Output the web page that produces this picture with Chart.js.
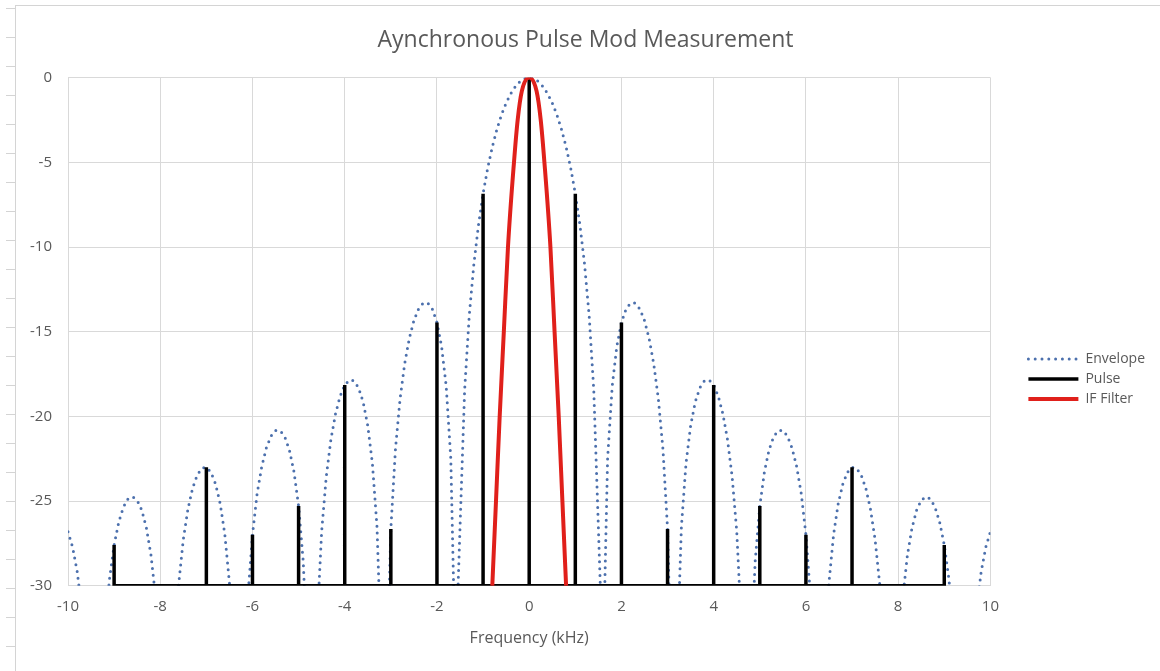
<!DOCTYPE html>
<html>
<head>
<meta charset="utf-8">
<title>Aynchronous Pulse Mod Measurement</title>
<script src="https://cdn.jsdelivr.net/npm/chart.js@4.4.1/dist/chart.umd.min.js"></script>
<style>
    html, body { margin: 0; padding: 0; background: #fff; }
    #wrap { position: relative; width: 1160px; height: 671px; overflow: hidden; }
    #frame { position: absolute; left: 15px; top: 5px; right: 0; bottom: 0;
             border-left: 1px solid #d4d4d4; border-top: 1px solid #d4d4d4; }
    #rows { position: absolute; left: 6px; top: 8px; width: 9px; bottom: 0;
            background: repeating-linear-gradient(to bottom, #d4d4d4 0, #d4d4d4 1px, transparent 1px, transparent 29px); }
    canvas { position: absolute; left: 0; top: 0; }
</style>
</head>
<body>
<div id="wrap">
    <div id="frame"></div>
    <div id="rows"></div>
    <canvas id="pulsechart" width="1160" height="671"></canvas>
</div>
<script>
// envelope, every 0.1 kHz (dB)
const envFreq = [
    -10.0, -9.9, -9.8, -9.7, -9.6, -9.5, -9.4, -9.3, -9.2, -9.1,
    -9.0, -8.9, -8.8, -8.7, -8.6, -8.5, -8.4, -8.3, -8.2, -8.1,
    -8.0, -7.9, -7.8, -7.7, -7.6, -7.5, -7.4, -7.3, -7.2, -7.1,
    -7.0, -6.9, -6.8, -6.7, -6.6, -6.5, -6.4, -6.3, -6.2, -6.1,
    -6.0, -5.9, -5.8, -5.7, -5.6, -5.5, -5.4, -5.3, -5.2, -5.1,
    -5.0, -4.9, -4.8, -4.7, -4.6, -4.5, -4.4, -4.3, -4.2, -4.1,
    -4.0, -3.9, -3.8, -3.7, -3.6, -3.5, -3.4, -3.3, -3.2, -3.1,
    -3.0, -2.9, -2.8, -2.7, -2.6, -2.5, -2.4, -2.3, -2.2, -2.1,
    -2.0, -1.9, -1.8, -1.7, -1.6, -1.5, -1.4, -1.3, -1.2, -1.1,
    -1.0, -0.9, -0.8, -0.7, -0.6, -0.5, -0.4, -0.3, -0.2, -0.1,
    0.0,
    0.1, 0.2, 0.3, 0.4, 0.5, 0.6, 0.7, 0.8, 0.9, 1.0,
    1.1, 1.2, 1.3, 1.4, 1.5, 1.6, 1.7, 1.8, 1.9, 2.0,
    2.1, 2.2, 2.3, 2.4, 2.5, 2.6, 2.7, 2.8, 2.9, 3.0,
    3.1, 3.2, 3.3, 3.4, 3.5, 3.6, 3.7, 3.8, 3.9, 4.0,
    4.1, 4.2, 4.3, 4.4, 4.5, 4.6, 4.7, 4.8, 4.9, 5.0,
    5.1, 5.2, 5.3, 5.4, 5.5, 5.6, 5.7, 5.8, 5.9, 6.0,
    6.1, 6.2, 6.3, 6.4, 6.5, 6.6, 6.7, 6.8, 6.9, 7.0,
    7.1, 7.2, 7.3, 7.4, 7.5, 7.6, 7.7, 7.8, 7.9, 8.0,
    8.1, 8.2, 8.3, 8.4, 8.5, 8.6, 8.7, 8.8, 8.9, 9.0,
    9.1, 9.2, 9.3, 9.4, 9.5, 9.6, 9.7, 9.8, 9.9, 10.0
];
const envLevel = [
    -26.81, -27.72, -29.17, -31.39, -34.95, -42.06, -51.6, -37.60, -32.55, -29.59,
    -27.59, -26.24, -25.36, -24.87, -24.74, -24.95, -25.54, -26.58, -28.20, -30.70,
    -34.90, -44.7, -43.2, -34.14, -29.90, -27.26, -25.48, -24.25, -23.47, -23.06,
    -23.00, -23.30, -23.99, -25.15, -26.96, -29.81, -34.85, -51.5, -37.49, -30.64,
    -26.99, -24.57, -22.97, -21.87, -21.17, -20.83, -20.84, -21.20, -21.98, -23.27,
    -25.29, -28.54, -34.82, -51.6, -32.31, -26.78, -23.55, -21.37, -19.85, -18.81,
    -18.15, -17.85, -17.90, -18.31, -19.15, -20.55, -22.77, -26.52, -34.79, -37.46,
    -26.64, -21.93, -18.96, -16.89, -15.40, -14.34, -13.66, -13.31, -13.30, -13.66,
    -14.46, -15.86, -18.21, -22.48, -34.78, -26.55, -18.44, -14.05, -11.01, -8.70,
    -6.85, -5.34, -4.09, -3.05, -2.19, -1.50, -0.95, -0.53, -0.23, -0.06,
    0,
    -0.06, -0.23, -0.53, -0.95, -1.50, -2.19, -3.05, -4.09, -5.34, -6.85,
    -8.70, -11.01, -14.05, -18.44, -26.55, -34.78, -22.48, -18.21, -15.86, -14.46,
    -13.66, -13.30, -13.31, -13.66, -14.34, -15.40, -16.89, -18.96, -21.93, -26.64,
    -37.46, -34.79, -26.52, -22.77, -20.55, -19.15, -18.31, -17.90, -17.85, -18.15,
    -18.81, -19.85, -21.37, -23.55, -26.78, -32.31, -51.6, -34.82, -28.54, -25.29,
    -23.27, -21.98, -21.20, -20.84, -20.83, -21.17, -21.87, -22.97, -24.57, -26.99,
    -30.64, -37.49, -51.5, -34.85, -29.81, -26.96, -25.15, -23.99, -23.30, -23.00,
    -23.06, -23.47, -24.25, -25.48, -27.26, -29.90, -34.14, -43.2, -44.7, -34.90,
    -30.70, -28.20, -26.58, -25.54, -24.95, -24.74, -24.87, -25.36, -26.24, -27.59,
    -29.59, -32.55, -37.60, -51.6, -42.06, -34.95, -31.39, -29.17, -27.72, -26.81
];

// spectral lines
const pulseFreq = [-9, -8, -7, -6, -5, -4, -3, -2, -1, 0, 1, 2, 3, 4, 5, 6, 7, 8, 9];
const pulseLevel = [-27.59, -34.90, -23.00, -26.99, -25.29, -18.15, -26.64, -14.46, -6.85, 0,
                    -6.85, -14.46, -26.64, -18.15, -25.29, -26.99, -23.00, -34.90, -27.59];

// IF filter response
const filterFreq = [-0.80, -0.72, -0.64, -0.55, -0.46, -0.33, -0.25, -0.16, 0, 0.16, 0.25, 0.33, 0.46, 0.55, 0.64, 0.72, 0.80];
const filterLevel = [-30, -25, -20, -15, -10, -5, -2.5, -0.8, 0, -0.8, -2.5, -5, -10, -15, -20, -25, -30];

const xTicks = [-10, 10, 2];      // min, max, step
const yTicks = [-30, 0, 5];

const textColor = '#595959';
const gridColor = '#d9d9d9';
const fontFamily = "'Open Sans', sans-serif";

function pairs(xs, ys) {
    return xs.map(function (x, i) { return { x: x, y: ys[i] }; });
}

// each line drops from the floor up to its level and back down
const pulsePoints = [];
pulseFreq.forEach(function (f, i) {
    pulsePoints.push({ x: f, y: yTicks[0] });
    pulsePoints.push({ x: f, y: pulseLevel[i] });
    pulsePoints.push({ x: f, y: yTicks[0] });
});

const data = {
    datasets: [{
        label: 'Envelope',
        data: pairs(envFreq, envLevel),
        borderColor: '#4c70ad',
        borderWidth: 3,
        borderDash: [0, 6.8],
        borderCapStyle: 'round',
        order: 3
    }, {
        label: 'Pulse',
        data: pulsePoints,
        borderColor: '#000000',
        borderWidth: 3.5,
        order: 2
    }, {
        label: 'IF Filter',
        data: pairs(filterFreq, filterLevel),
        borderColor: '#e0201b',
        borderWidth: 4,
        cubicInterpolationMode: 'monotone',
        order: 1
    }]
};

data.datasets.forEach(function (ds) {
    ds.showLine = true;
    ds.pointRadius = 0;
    ds.pointHoverRadius = 0;
    ds.fill = false;
});

const config = {
    type: 'scatter',
    data: data,
    options: {
        responsive: false,
        animation: false,
        devicePixelRatio: 1,
        layout: { padding: { left: 16, top: 6, right: 5, bottom: 19 } },
        plugins: {
            tooltip: { enabled: false },
            title: {
                display: true,
                text: 'Aynchronous Pulse Mod Measurement',
                color: textColor,
                font: { family: fontFamily, size: 23, weight: 'normal' },
                padding: { top: 21, bottom: 23 }
            },
            legend: {
                position: 'right',
                title: { display: true, text: '', font: { size: 1 }, padding: { top: 99, bottom: 0 } },
                labels: {
                    usePointStyle: true,
                    pointStyleWidth: 50,
                    boxHeight: 14,
                    padding: 6,
                    color: textColor,
                    font: { family: fontFamily, size: 14 },
                    generateLabels: function (chart) {
                        return chart.data.datasets.map(function (ds, i) {
                            return {
                                text: ds.label,
                                datasetIndex: i,
                                pointStyle: 'line',
                                strokeStyle: ds.borderColor,
                                fillStyle: ds.borderColor,
                                lineWidth: ds.borderWidth,
                                lineDash: ds.borderDash || [],
                                lineCap: ds.borderCapStyle || 'butt',
                                fontColor: textColor,
                                hidden: false
                            };
                        });
                    }
                }
            }
        },
        scales: {
            x: {
                type: 'linear',
                min: xTicks[0],
                max: xTicks[1],
                ticks: { stepSize: xTicks[2], color: textColor, padding: 12, font: { family: fontFamily, size: 15 } },
                grid: { color: gridColor, drawTicks: false },
                border: { color: gridColor },
                title: {
                    display: true,
                    text: 'Frequency (kHz)',
                    color: textColor,
                    font: { family: fontFamily, size: 16 },
                    padding: { top: 1, bottom: 4 }
                }
            },
            y: {
                type: 'linear',
                min: yTicks[0],
                max: yTicks[1],
                ticks: { stepSize: yTicks[2], color: textColor, padding: 16, font: { family: fontFamily, size: 15 } },
                grid: { color: gridColor, drawTicks: false },
                border: { color: gridColor },
                afterFit: function (scale) { scale.width = 52; }
            },
            // empty axis, only keeps the gap between plot and legend
            spacer: {
                type: 'linear',
                position: 'right',
                grid: { display: false, drawTicks: false },
                border: { display: false },
                ticks: { display: false },
                afterFit: function (scale) { scale.width = 32; }
            }
        }
    }
};

const myChart = new Chart(document.getElementById('pulsechart'), config);
</script>
</body>
</html>
